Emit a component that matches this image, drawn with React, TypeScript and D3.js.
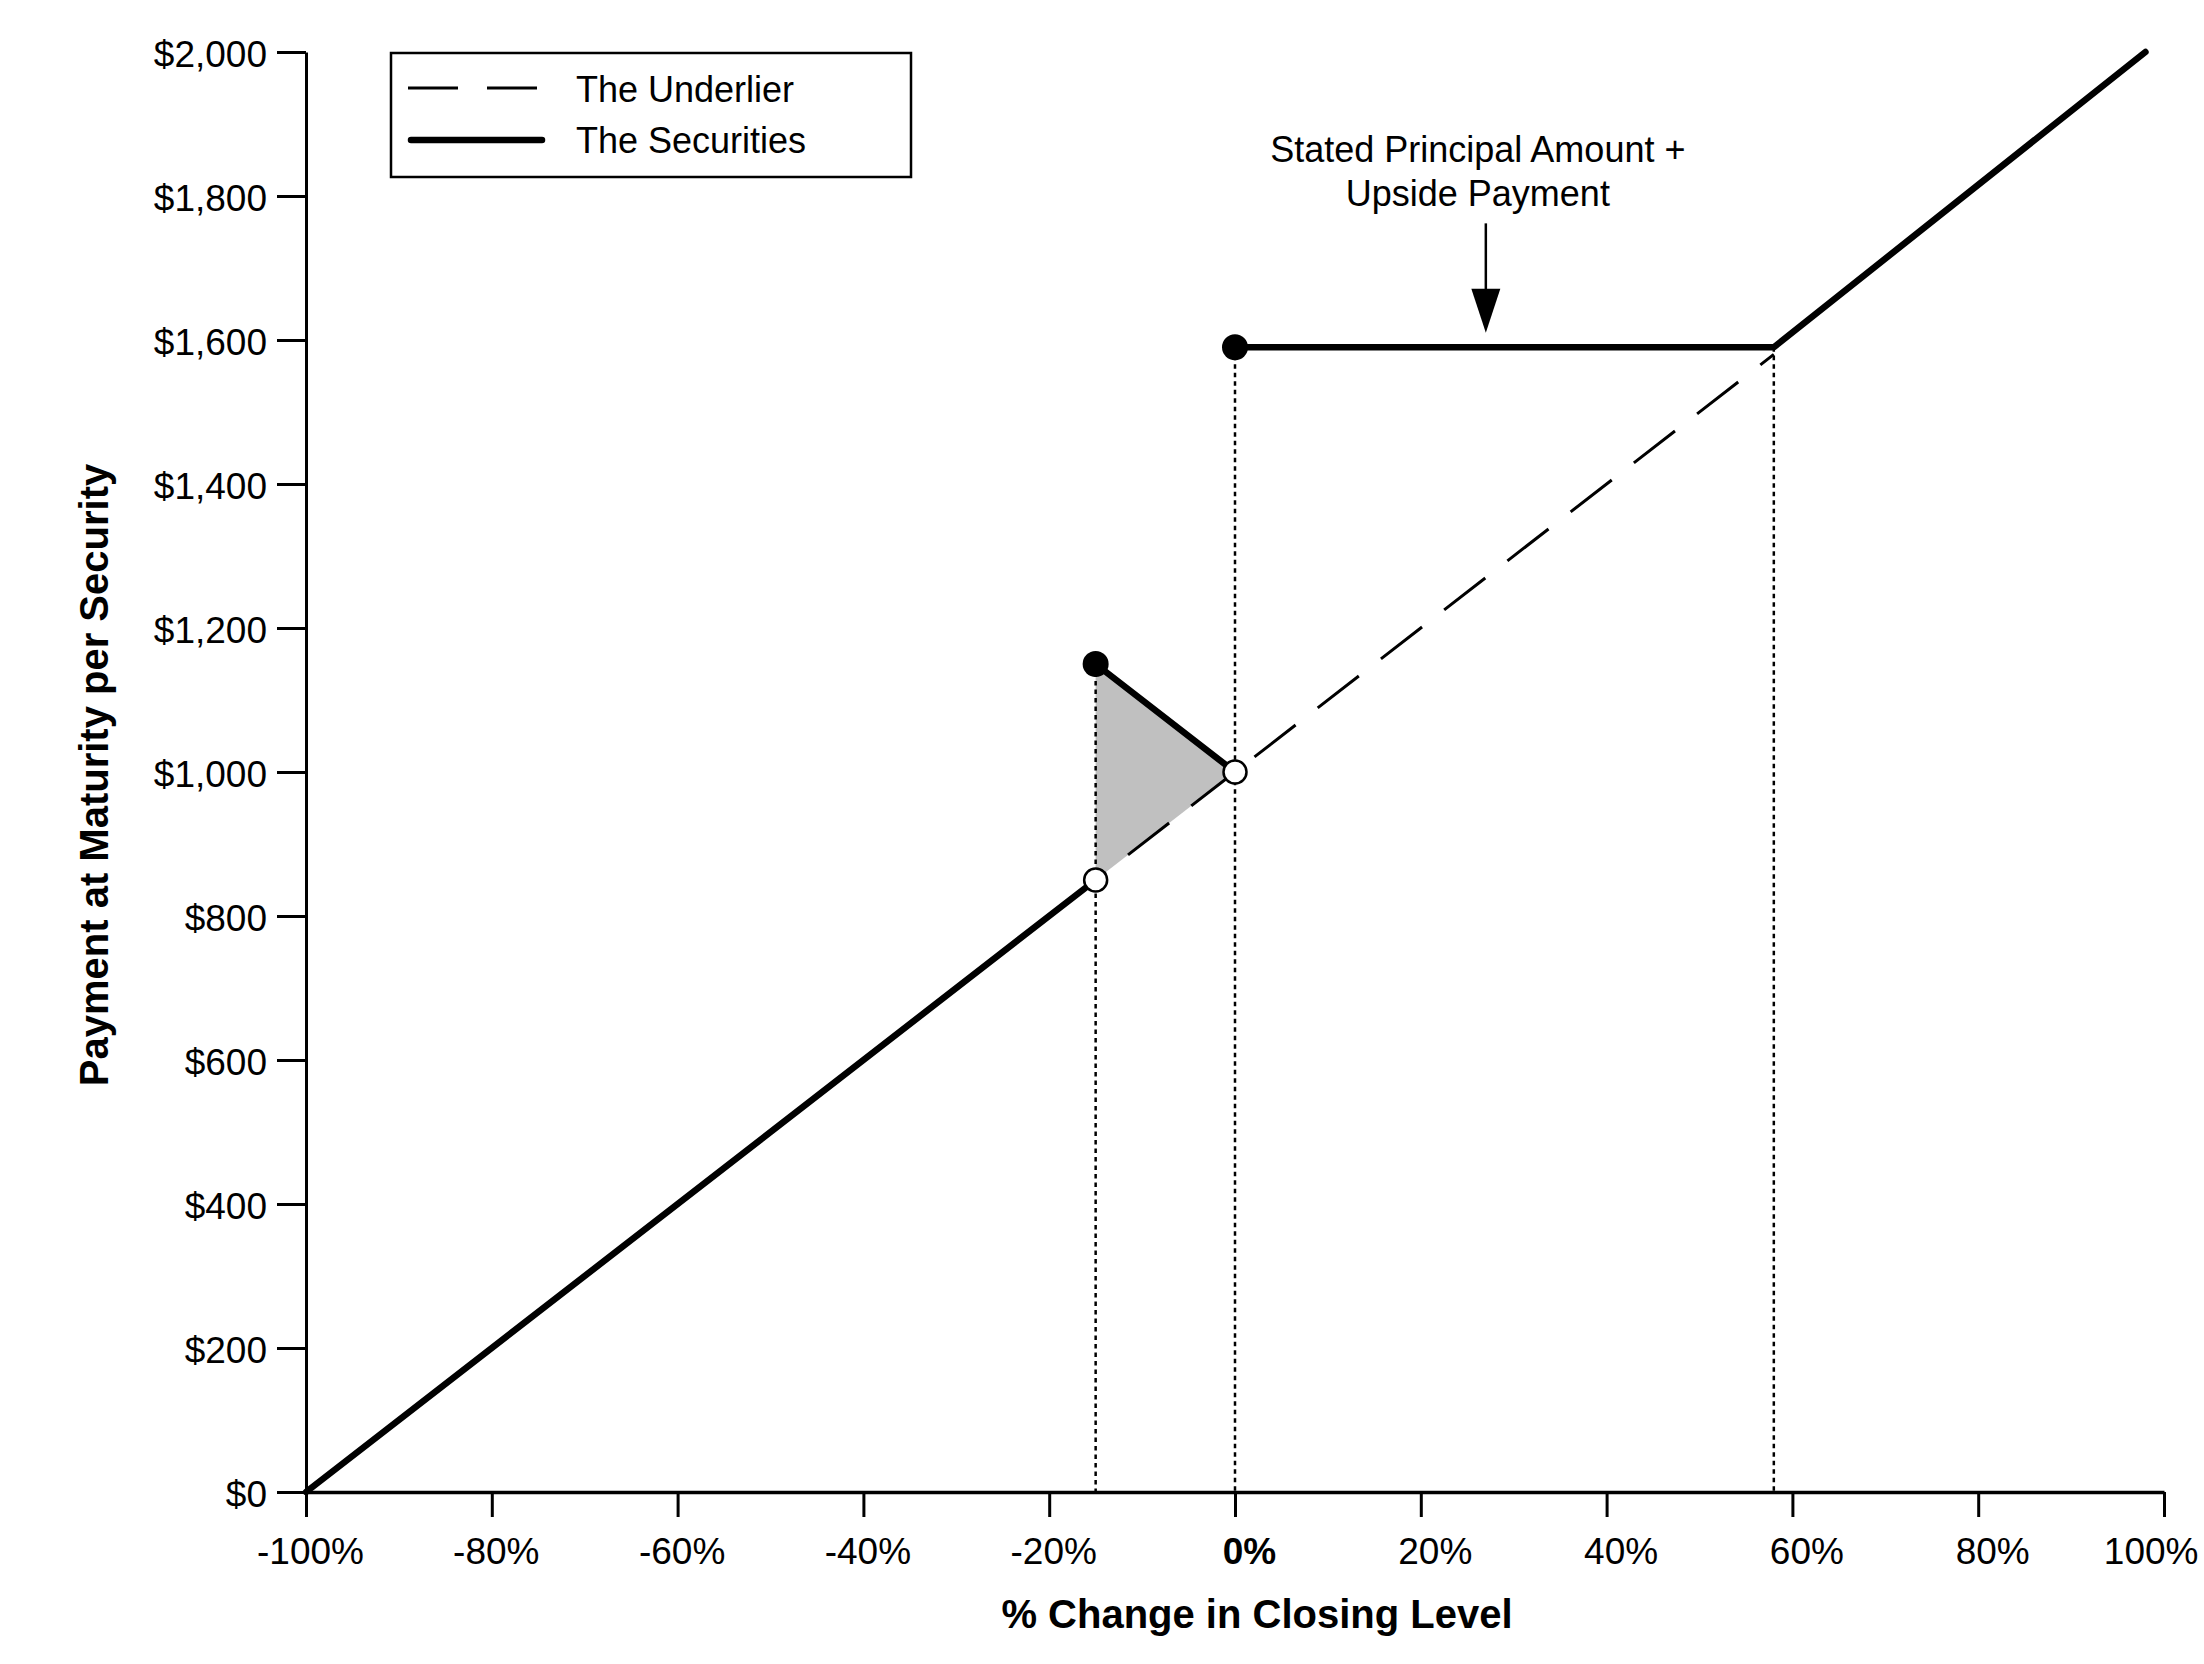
import React, { useEffect, useRef } from "react";
import * as d3 from "d3";

// ---- data ----
const xTicks = [-100, -80, -60, -40, -20, 0, 20, 40, 60, 80, 100];
const yTicks = [0, 200, 400, 600, 800, 1000, 1200, 1400, 1600, 1800, 2000];

const underlier: [number, number][] = [
  [-100, 0],
  [58, 1580],
];
const securitiesBelow: [number, number][] = [
  [-100, 0],
  [-15, 850],
];
const securitiesBuffer: [number, number][] = [
  [-15, 1150],
  [0, 1000],
];
const securitiesUpside: [number, number][] = [
  [0, 1590],
  [58, 1590],
  [98, 2000],
];
const shadedZone: [number, number][] = [
  [-15, 1150],
  [0, 1000],
  [-15, 850],
];
const openPoints: [number, number][] = [
  [-15, 850],
  [0, 1000],
];
const filledPoints: [number, number][] = [
  [-15, 1150],
  [0, 1590],
];
const guideLines: { x: number; top: number }[] = [
  { x: -15, top: 1150 },
  { x: 0, top: 1590 },
  { x: 58, top: 1590 },
];
const annotationLines = ["Stated Principal Amount +", "Upside Payment"];
const annotationArrow = { x: 27, from: 1762, to: 1610 };
const legendItems = ["The Underlier", "The Securities"];
const xTitle = "% Change in Closing Level";
const yTitle = "Payment at Maturity per Security";

const W = 2204;
const H = 1664;
const FONT = "'Liberation Sans', Arial, Helvetica, sans-serif";

export default function App() {
  const ref = useRef<SVGSVGElement | null>(null);

  useEffect(() => {
    const svg = d3.select(ref.current);
    svg.selectAll("*").remove();

    const x = d3.scaleLinear().domain([-100, 100]).range([306, 2164]);
    const y = d3.scaleLinear().domain([0, 2000]).range([1492, 52]);
    const line = d3
      .line<[number, number]>()
      .x((d) => x(d[0]))
      .y((d) => y(d[1]));

    // shaded buffer zone
    svg
      .append("path")
      .attr("d", line(shadedZone) + "Z")
      .attr("fill", "#c0c0c0")
      .attr("stroke", "none");

    // dotted guides
    svg
      .selectAll("line.guide")
      .data(guideLines)
      .enter()
      .append("line")
      .attr("x1", (d) => x(d.x))
      .attr("x2", (d) => x(d.x))
      .attr("y1", (d) => y(d.top))
      .attr("y2", y(0))
      .attr("stroke", "#000")
      .attr("stroke-width", 2.5)
      .attr("stroke-dasharray", "4.5,4");

    // underlier dashed
    svg
      .append("path")
      .attr("d", line(underlier))
      .attr("fill", "none")
      .attr("stroke", "#000")
      .attr("stroke-width", 3)
      .attr("stroke-dasharray", "52,28");

    // axes
    const xAxis = d3
      .axisBottom(x)
      .tickValues(xTicks)
      .tickSize(25)
      .tickSizeOuter(0)
      .tickFormat((d) => `${d}%`);
    const gx = svg.append("g").attr("transform", `translate(0,${y(0)})`).call(xAxis);
    gx.select(".domain").attr("stroke", "#000").attr("stroke-width", 3.5);
    gx.selectAll(".tick line").attr("stroke", "#000").attr("stroke-width", 3);
    gx.selectAll<SVGTextElement, number>(".tick text")
      .attr("font-family", FONT)
      .attr("font-size", 37)
      .attr("fill", "#000")
      .attr("y", 72)
      .attr("dy", 0)
      .attr("font-weight", (d) => (d === 0 ? "bold" : "normal"))
      .attr("text-anchor", (d) => (d === 100 ? "end" : "middle"))
      .attr("x", (d) => (d === 100 ? W - 6 - x(d) : d < 0 ? 4 : 14));

    const yAxis = d3
      .axisLeft(y)
      .tickValues(yTicks)
      .tickSize(29)
      .tickSizeOuter(0)
      .tickFormat((d) => d3.format("$,")(d as number));
    const gy = svg.append("g").attr("transform", `translate(${x(-100)},0)`).call(yAxis);
    gy.select(".domain").attr("stroke", "#000").attr("stroke-width", 3);
    gy.selectAll(".tick line").attr("stroke", "#000").attr("stroke-width", 3);
    gy.selectAll(".tick text")
      .attr("font-family", FONT)
      .attr("font-size", 37)
      .attr("fill", "#000")
      .attr("x", -39)
      .attr("dy", "0.38em");

    // securities
    [securitiesBelow, securitiesBuffer, securitiesUpside].forEach((seg) => {
      svg
        .append("path")
        .attr("d", line(seg))
        .attr("fill", "none")
        .attr("stroke", "#000")
        .attr("stroke-width", 6.5)
        .attr("stroke-linecap", "round")
        .attr("stroke-linejoin", "round");
    });

    svg
      .selectAll("circle.filled")
      .data(filledPoints)
      .enter()
      .append("circle")
      .attr("cx", (d) => x(d[0]))
      .attr("cy", (d) => y(d[1]))
      .attr("r", 13)
      .attr("fill", "#000");

    svg
      .selectAll("circle.open")
      .data(openPoints)
      .enter()
      .append("circle")
      .attr("cx", (d) => x(d[0]))
      .attr("cy", (d) => y(d[1]))
      .attr("r", 11.5)
      .attr("fill", "#fff")
      .attr("stroke", "#000")
      .attr("stroke-width", 2.5);

    // annotation
    const ax = x(annotationArrow.x);
    const ay1 = y(annotationArrow.from);
    const ay2 = y(annotationArrow.to);
    svg
      .append("line")
      .attr("x1", ax)
      .attr("x2", ax)
      .attr("y1", ay1)
      .attr("y2", ay2 - 40)
      .attr("stroke", "#000")
      .attr("stroke-width", 2.5);
    svg
      .append("path")
      .attr("d", `M${ax - 14.5},${ay2 - 44}L${ax + 14.5},${ay2 - 44}L${ax},${ay2}Z`)
      .attr("fill", "#000");
    svg
      .selectAll("text.ann")
      .data(annotationLines)
      .enter()
      .append("text")
      .attr("x", ax - 8)
      .attr("y", (_d, i) => ay1 - 61 + i * 44)
      .attr("text-anchor", "middle")
      .attr("font-family", FONT)
      .attr("font-size", 36)
      .attr("fill", "#000")
      .text((d) => d);

    // legend
    const lg = svg.append("g");
    lg.append("rect")
      .attr("x", 391)
      .attr("y", 53)
      .attr("width", 520)
      .attr("height", 124)
      .attr("fill", "#fff")
      .attr("stroke", "#000")
      .attr("stroke-width", 2.5);
    lg.append("line")
      .attr("x1", 408)
      .attr("x2", 537)
      .attr("y1", 88)
      .attr("y2", 88)
      .attr("stroke", "#000")
      .attr("stroke-width", 3)
      .attr("stroke-dasharray", "50,29");
    lg.append("line")
      .attr("x1", 411)
      .attr("x2", 542)
      .attr("y1", 140)
      .attr("y2", 140)
      .attr("stroke", "#000")
      .attr("stroke-width", 6.5)
      .attr("stroke-linecap", "round");
    lg.selectAll("text")
      .data(legendItems)
      .enter()
      .append("text")
      .attr("x", 576)
      .attr("y", (_d, i) => 102 + i * 51)
      .attr("font-family", FONT)
      .attr("font-size", 36)
      .attr("fill", "#000")
      .text((d) => d);

    // axis titles
    svg
      .append("text")
      .attr("x", 1257)
      .attr("y", 1628)
      .attr("text-anchor", "middle")
      .attr("font-family", FONT)
      .attr("font-size", 40)
      .attr("font-weight", "bold")
      .attr("fill", "#000")
      .text(xTitle);
    svg
      .append("text")
      .attr("transform", `translate(108,${775}) rotate(-90)`)
      .attr("text-anchor", "middle")
      .attr("font-family", FONT)
      .attr("font-size", 40)
      .attr("font-weight", "bold")
      .attr("fill", "#000")
      .text(yTitle);
  }, []);

  return (
    <svg
      ref={ref}
      width={W}
      height={H}
      viewBox={`0 0 ${W} ${H}`}
      style={{ position: "absolute", left: 0, top: 0, background: "#fff" }}
    />
  );
}
